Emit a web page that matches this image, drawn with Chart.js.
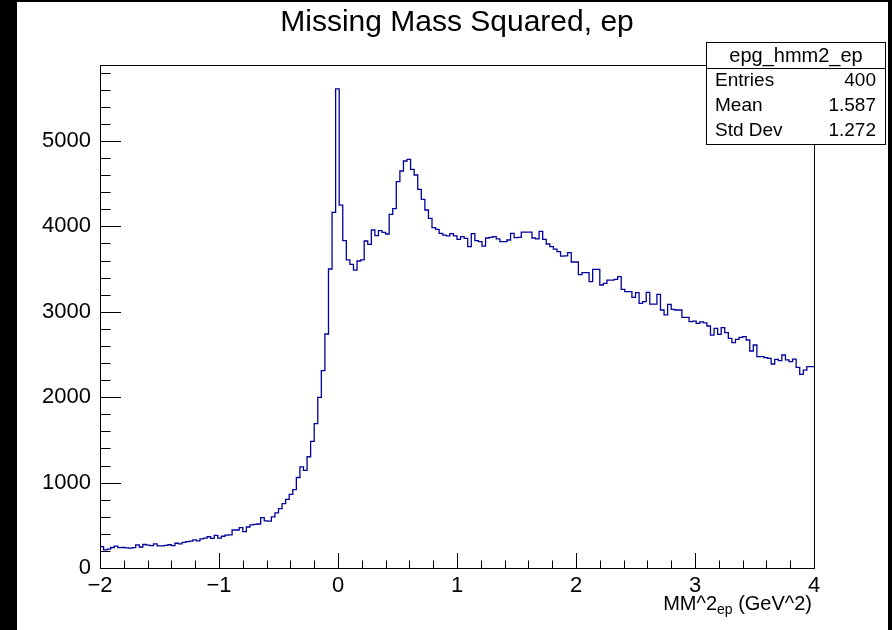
<!DOCTYPE html>
<html>
<head>
<meta charset="utf-8">
<script src="https://cdn.jsdelivr.net/npm/chart.js@4.4.1/dist/chart.umd.min.js"></script>
<style>
  html, body { margin: 0; padding: 0; background: #fff; }
  canvas { display: block; }
</style>
</head>
<body>
<canvas id="c" width="892" height="630"></canvas>
<script>
// Histogram epg_hmm2_ep: 200 bins of missing mass squared (e p system), -2 .. 4 GeV^2
const xRange = [-2, 4];
const counts = [
  250, 212, 222, 240, 255, 238, 240, 236, 232, 238,
  270, 246, 275, 268, 262, 282, 258, 258, 266, 272,
  262, 290, 282, 300, 308, 315, 330, 318, 340, 350,
  366, 346, 383, 350, 372, 385, 388, 445, 445, 472,
  425, 480, 505, 510, 515, 590, 552, 550, 598, 645,
  695, 753, 804, 863, 917, 1060, 1185, 1143, 1303, 1483,
  1690, 1998, 2311, 2740, 3501, 4165, 5610, 4250, 3833, 3607,
  3556, 3489, 3595, 3607, 3829, 3790, 3958, 3891, 3950, 3930,
  3911, 4141, 4208, 4524, 4649, 4766, 4785, 4668, 4602, 4434,
  4317, 4192, 4094, 3985, 3966, 3919, 3899, 3888, 3915, 3888,
  3849, 3880, 3860, 3763, 3915, 3833, 3821, 3770, 3864, 3872,
  3880, 3853, 3821, 3821, 3841, 3919, 3868, 3872, 3934, 3934,
  3934, 3864, 3853, 3942, 3849, 3794, 3763, 3735, 3704, 3653,
  3655, 3692, 3583, 3583, 3435, 3458, 3458, 3353, 3497, 3497,
  3314, 3333, 3372, 3372, 3380, 3411, 3263, 3236, 3236, 3169,
  3224, 3099, 3119, 3228, 3091, 3091, 3205, 3021, 2963, 3087,
  3029, 3021, 3021, 2935, 2935, 2885, 2892, 2865, 2881, 2870,
  2834, 2728, 2806, 2736, 2814, 2756, 2689, 2639, 2677, 2701,
  2709, 2670, 2541, 2611, 2475, 2475, 2463, 2455, 2389, 2443,
  2428, 2494, 2436, 2416, 2447, 2350, 2268, 2318, 2358, 2358
];
const yMax = 5890;

const xTickValues = [-2, -1, 0, 1, 2, 3, 4];
const xTickLabels = ['\u22122', '\u22121', '0', '1', '2', '3', '4'];
const yTickValues = [0, 1000, 2000, 3000, 4000, 5000];
const yTickLabels = ['0', '1000', '2000', '3000', '4000', '5000'];
const xMinorStep = 0.2;
const yMinorStep = 200;

const titleText = 'Missing Mass Squared, ep';
const statsTitle = 'epg_hmm2_ep';
const statsNames = ['Entries', 'Mean', 'Std Dev'];
const statsValues = ['400', '1.587', '1.272'];
const xTitleParts = ['MM^2', 'ep', ' (GeV^2)'];

const FONT = '"Liberation Sans", Arial, Helvetica, sans-serif';
const LINE = '#00009c';

// bin low edges -> step points; the closing point at the upper edge repeats the last bin
const binWidth = (xRange[1] - xRange[0]) / counts.length;
const points = counts.map((c, i) => ({ x: xRange[0] + i * binWidth, y: c }));
points.push({ x: xRange[1], y: counts[counts.length - 1] });

const pageBackground = {
  id: 'pageBackground',
  beforeDraw(chart) {
    const { ctx, width, height } = chart;
    ctx.save();
    ctx.fillStyle = '#fff';
    ctx.fillRect(0, 0, width, height);
    ctx.fillStyle = '#000';
    ctx.fillRect(0, 0, 17, height);
    ctx.fillRect(0, 0, width, 2);
    ctx.fillRect(width - 4, 0, 4, height);
    ctx.restore();
  }
};

const frameTicks = {
  id: 'frameTicks',
  afterDatasetsDraw(chart) {
    const { ctx, chartArea: a, scales: { x, y } } = chart;
    ctx.save();
    ctx.strokeStyle = '#000';
    ctx.lineWidth = 1;
    ctx.beginPath();
    // x ticks, pointing up into the frame
    const nx = Math.round((xRange[1] - xRange[0]) / xMinorStep);
    for (let k = 0; k <= nx; k++) {
      const v = xRange[0] + k * xMinorStep;
      const px = Math.round(x.getPixelForValue(v)) + 0.5;
      const len = (k % 5 === 0) ? 15 : 7.5;
      ctx.moveTo(px, a.bottom);
      ctx.lineTo(px, a.bottom - len);
    }
    // y ticks, pointing right into the frame
    for (let v = 0; v <= yMax; v += yMinorStep) {
      const py = Math.round(y.getPixelForValue(v)) + 0.5;
      const len = (v % 1000 === 0) ? 21 : 10.5;
      ctx.moveTo(a.left, py);
      ctx.lineTo(a.left + len, py);
    }
    ctx.stroke();
    ctx.strokeRect(Math.round(a.left) + 0.5, Math.round(a.top) + 0.5,
                   Math.round(a.right - a.left), Math.round(a.bottom - a.top));
    ctx.restore();
  },
  afterDraw(chart) {
    const { ctx, chartArea: a } = chart;
    ctx.save();
    ctx.fillStyle = '#000';
    ctx.textBaseline = 'middle';

    // title
    ctx.font = '30px ' + FONT;
    ctx.textAlign = 'center';
    ctx.fillText(titleText, 457, 23);

    // x axis title with subscript, right aligned to the frame
    const big = '20px ' + FONT, small = '14px ' + FONT;
    ctx.font = big;  const w0 = ctx.measureText(xTitleParts[0]).width;
    ctx.font = small; const w1 = ctx.measureText(xTitleParts[1]).width;
    ctx.font = big;  const w2 = ctx.measureText(xTitleParts[2]).width;
    let tx = a.right - 2 - (w0 + w1 + w2);
    const ty = 603;
    ctx.textAlign = 'left';
    ctx.textBaseline = 'alphabetic';
    ctx.font = big;  ctx.fillText(xTitleParts[0], tx, ty + 7); tx += w0;
    ctx.font = small; ctx.fillText(xTitleParts[1], tx, ty + 11); tx += w1;
    ctx.font = big;  ctx.fillText(xTitleParts[2], tx, ty + 7);

    // statistics box
    const bx = 706.5, by = 42.5, bw = 179, bh = 102;
    ctx.fillStyle = '#fff';
    ctx.fillRect(bx, by, bw, bh);
    ctx.strokeStyle = '#000';
    ctx.lineWidth = 1;
    ctx.strokeRect(bx, by, bw, bh);
    ctx.beginPath();
    ctx.moveTo(bx, 68.5);
    ctx.lineTo(bx + bw, 68.5);
    ctx.stroke();
    ctx.fillStyle = '#000';
    ctx.textBaseline = 'middle';
    ctx.font = '20px ' + FONT;
    ctx.textAlign = 'center';
    ctx.fillText(statsTitle, bx + bw / 2, 56);
    ctx.font = '19px ' + FONT;
    const rowY = [81, 106, 131];
    statsNames.forEach((n, i) => {
      ctx.textAlign = 'left';
      ctx.fillText(n, 715, rowY[i]);
      ctx.textAlign = 'right';
      ctx.fillText(statsValues[i], 876, rowY[i]);
    });
    ctx.restore();
  }
};

new Chart(document.getElementById('c'), {
  type: 'line',
  data: {
    datasets: [{
      data: points,
      stepped: 'before',
      borderColor: LINE,
      borderWidth: 1.3,
      pointRadius: 0,
      fill: false,
      tension: 0
    }]
  },
  options: {
    responsive: false,
    animation: false,
    events: [],
    layout: { padding: { left: 0, right: 78, top: 65, bottom: 0 } },
    plugins: { legend: { display: false }, tooltip: { enabled: false }, title: { display: false } },
    scales: {
      x: {
        type: 'linear',
        min: xRange[0],
        max: xRange[1],
        grid: { display: false, drawTicks: false },
        border: { display: false },
        afterBuildTicks: s => { s.ticks = xTickValues.map(v => ({ value: v })); },
        afterFit: s => { s.height = 62; },
        ticks: {
          autoSkip: false,
          maxRotation: 0,
          padding: 5,
          color: '#000',
          font: { family: FONT, size: 22 },
          callback: v => xTickLabels[xTickValues.indexOf(v)]
        }
      },
      y: {
        min: 0,
        max: yMax,
        grid: { display: false, drawTicks: false },
        border: { display: false },
        afterBuildTicks: s => { s.ticks = yTickValues.map(v => ({ value: v })); },
        afterFit: s => { s.width = 100; },
        ticks: {
          padding: 9,
          color: '#000',
          font: { family: FONT, size: 22 },
          callback: v => yTickLabels[yTickValues.indexOf(v)]
        }
      }
    }
  },
  plugins: [pageBackground, frameTicks]
});
</script>
</body>
</html>
